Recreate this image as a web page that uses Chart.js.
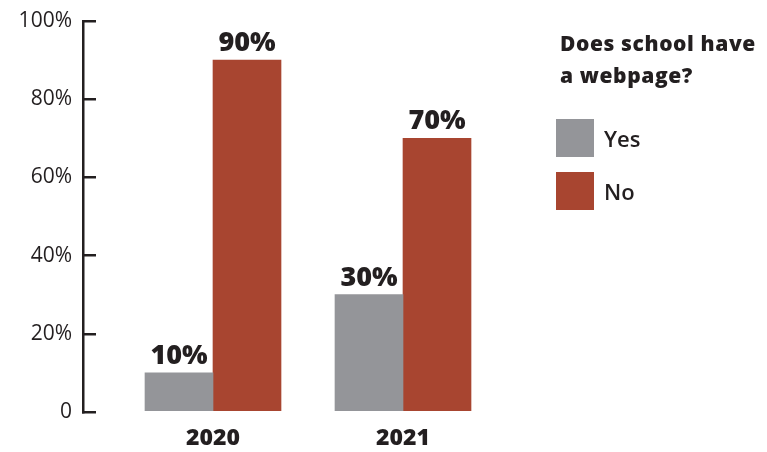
<!DOCTYPE html>
<html>
<head>
<meta charset="utf-8">
<script src="https://cdn.jsdelivr.net/npm/chart.js@4"></script>
<style>
  html, body { margin: 0; padding: 0; background: #fff; }
  #wrap { position: relative; width: 767px; height: 452px; }
  #legend { position: absolute; left: 556px; top: 27px; color: #231f20; font-family: 'Open Sans', sans-serif; }
  #legend .title { font-weight: 800; font-size: 21px; line-height: 32px; margin-left: 4px; white-space: nowrap; letter-spacing: 0.6px; }
  #legend ul { list-style: none; margin: 28px 0 0 0; padding: 0; }
  #legend li { display: flex; align-items: center; height: 38px; margin-bottom: 15px; font-size: 22px; font-weight: 600; }
  #legend .box { width: 38px; height: 38px; margin-right: 10px; }
</style>
</head>
<body>
<div id="wrap">
  <canvas id="webChart"></canvas>
  <div id="legend">
    <div class="title">Does school have<br>a webpage?</div>
    <ul id="legendItems"></ul>
  </div>
</div>
<script>
  const years = [2020, 2021];
  const yesValues = [10, 30];
  const noValues = [90, 70];
  const yTicks = [0, 20, 40, 60, 80, 100];

  const ink = '#231f20';

  // value labels above each bar
  const barLabels = {
    id: 'barLabels',
    afterDatasetsDraw(chart) {
      const ctx = chart.ctx;
      ctx.save();
      ctx.font = '800 27px "Open Sans"';
      ctx.fillStyle = ink;
      ctx.textAlign = 'center';
      ctx.textBaseline = 'alphabetic';
      chart.data.datasets.forEach((ds, i) => {
        chart.getDatasetMeta(i).data.forEach((bar, j) => {
          ctx.fillText(ds.data[j].y + '%', bar.x, bar.y - 9);
        });
      });
      ctx.restore();
    }
  };

  // legend as html, built from the chart's own legend items
  const htmlLegend = {
    id: 'htmlLegend',
    afterUpdate(chart) {
      const ul = document.getElementById('legendItems');
      ul.innerHTML = '';
      chart.options.plugins.legend.labels.generateLabels(chart).forEach(item => {
        const li = document.createElement('li');
        const box = document.createElement('span');
        box.className = 'box';
        box.style.background = item.fillStyle;
        li.appendChild(box);
        li.appendChild(document.createTextNode(item.text));
        ul.appendChild(li);
      });
    }
  };

  new Chart(document.getElementById('webChart'), {
    type: 'bar',
    data: {
      datasets: [{
        label: 'Yes',
        data: years.map((y, i) => ({ x: y, y: yesValues[i] })),
        backgroundColor: '#949599'
      }, {
        label: 'No',
        data: years.map((y, i) => ({ x: y, y: noValues[i] })),
        backgroundColor: '#a84530'
      }]
    },
    options: {
      responsive: true,
      maintainAspectRatio: false,
      animation: false,
      barThickness: 68,
      layout: { padding: { top: 21, left: 16, right: 226, bottom: 0 } },
      plugins: {
        tooltip: { enabled: false },
        legend: { display: false }
      },
      scales: {
        x: {
          type: 'linear',
          offset: false,
          min: 2019.3158,
          max: 2021.7263,
          border: { display: false },
          grid: { display: false, drawTicks: false },
          afterBuildTicks(scale) {
            scale.ticks = years.map(v => ({ value: v }));
          },
          afterFit(scale) { scale.height = 40; },
          ticks: {
            padding: 13,
            maxRotation: 0,
            color: ink,
            font: { family: 'Open Sans', size: 23, weight: '800' },
            callback: v => String(v)
          }
        },
        y: {
          min: 0,
          max: 100,
          afterBuildTicks(scale) {
            scale.ticks = yTicks.map(v => ({ value: v }));
          },
          afterFit(scale) {
            scale.width = 67;
            scale.paddingTop = 12;
            scale.paddingBottom = 12;
          },
          border: { display: true, color: ink, width: 2.5 },
          grid: {
            drawOnChartArea: false,
            drawTicks: true,
            tickLength: -13,
            color: ink,
            lineWidth: 2.5
          },
          ticks: {
            padding: 24,
            color: ink,
            font: { family: 'Open Sans', size: 21, weight: '400' },
            callback: v => (v === 0 ? '0' : v + '%')
          }
        }
      }
    },
    plugins: [barLabels, htmlLegend]
  });
</script>
</body>
</html>
